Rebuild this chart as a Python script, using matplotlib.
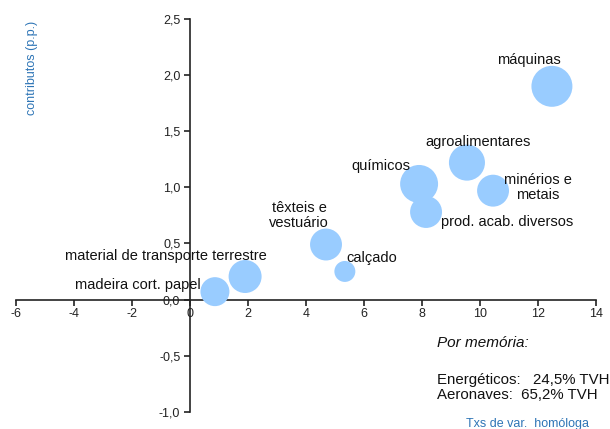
import matplotlib
matplotlib.use("Agg")
import matplotlib.pyplot as plt

plt.rcParams['font.family'] = ['Liberation Sans', 'DejaVu Sans']

sectors = ["máquinas", "agroalimentares", "químicos", "minérios e\nmetais",
           "prod. acab. diversos", "têxteis e\nvestuário", "calçado",
           "material de transporte terrestre", "madeira cort. papel"]
growth = [12.48, 9.55, 7.90, 10.45, 8.14, 4.69, 5.34, 1.90, 0.86]
contrib = [1.90, 1.22, 1.03, 0.97, 0.78, 0.49, 0.25, 0.205, 0.07]
weight = [16.8, 13.0, 14.4, 10.2, 10.2, 10.2, 4.4, 10.9, 8.4]

x_ticks = [-6, -4, -2, 0, 2, 4, 6, 8, 10, 12, 14]
y_ticks = [-1.0, -0.5, 0.0, 0.5, 1.0, 1.5, 2.0, 2.5]

# label offsets (points) relative to bubble centres
offsets = [(-16.6, 18.7), (7.9, 15.1), (-27.4, 13.0), (32.4, 2.2), (58.3, -7.2),
           (-19.4, 20.9), (19.4, 9.4), (-56.9, 14.6), (-55.4, 5.0)]

fig = plt.figure(figsize=(6.10, 4.29), dpi=100)
ax = fig.add_axes([16/610, 1-411.7/429, 580/610, (411.7-19)/429])

ax.scatter(growth, contrib, s=[w*51.8 for w in weight], color='#99CCFF',
           edgecolors='none', zorder=3)

for name, xv, yv, off in zip(sectors, growth, contrib, offsets):
    ax.annotate(name, (xv, yv), xytext=off, textcoords='offset points',
                ha='center', va='center', fontsize=10.5, color='#111111',
                zorder=4, linespacing=1.1)

ax.set_xlim(-6, 14)
ax.set_ylim(-1.0, 2.5)
ax.set_xticks(x_ticks)
ax.set_xticklabels([str(t) for t in x_ticks])
ax.set_yticks(y_ticks)
ax.set_yticklabels([f"{t:.1f}".replace('.', ',') for t in y_ticks])

ax.spines['left'].set_position(('data', 0))
ax.spines['bottom'].set_position(('data', 0))
ax.spines['top'].set_visible(False)
ax.spines['right'].set_visible(False)
for sp in ('left', 'bottom'):
    ax.spines[sp].set_linewidth(1.2)
    ax.spines[sp].set_color('#222222')
    ax.spines[sp].set_zorder(2)
ax.tick_params(axis='both', direction='out', length=4, width=1.2,
               labelsize=9, colors='#222222')
ax.tick_params(axis='x', pad=2)
ax.tick_params(axis='y', pad=3)
ax.patch.set_alpha(0)

blue = '#2E75B6'
fig.text(32/610, 1-68/429, "contributos (p.p.)", rotation=90, ha='center',
         va='center', fontsize=9, color=blue)
fig.text(528/610, 1-424/429, "Txs de var.  homóloga", ha='center', va='center',
         fontsize=9, color=blue)

fig.text(437/610, 1-343/429, "Por memória:", style='italic', ha='left',
         va='center', fontsize=11, color='#111111')
fig.text(437/610, 1-380/429, "Energéticos:   24,5% TVH", ha='left',
         va='center', fontsize=10.8, color='#111111')
fig.text(437/610, 1-395/429, "Aeronaves:  65,2% TVH", ha='left',
         va='center', fontsize=10.8, color='#111111')

fig.savefig("out.png", dpi=100)
